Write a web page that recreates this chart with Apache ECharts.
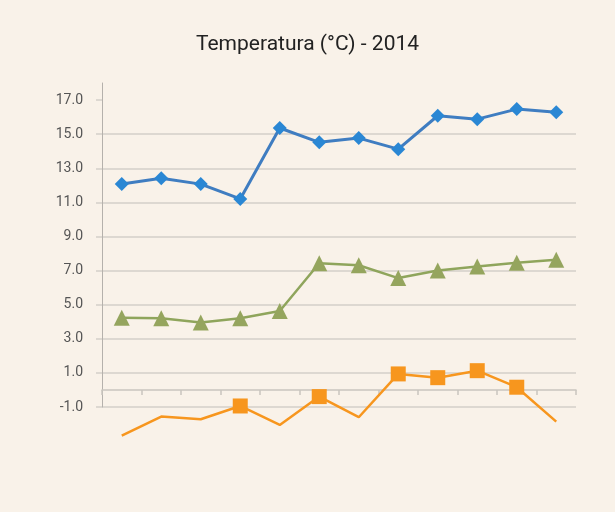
<!DOCTYPE html>
<html><head><meta charset="utf-8">
<script src="https://cdn.jsdelivr.net/npm/echarts@6/dist/echarts.min.js"></script>
<style>html,body{margin:0;padding:0;background:#f9f2e9;}#c{width:615px;height:512px;}</style>
</head><body><div id="c"></div>
<script>
const categories = ['1','2','3','4','5','6','7','8','9','10','11','12'];
const seriesBlue = [12.08, 12.42, 12.07, 11.2, 15.36, 14.52, 14.77, 14.12, 16.08, 15.88, 16.47, 16.28];
const seriesGreen = [4.24, 4.2, 3.95, 4.2, 4.63, 7.43, 7.31, 6.56, 7.0, 7.24, 7.46, 7.64];
const seriesOrange = [-2.68, -1.56, -1.72, -0.94, -2.05, -0.39, -1.6, 0.94, 0.72, 1.13, 0.16, -1.86];
const orangeMarked = [false, false, false, true, false, true, false, true, true, true, true, false];
const yTicks = [-1, 1, 3, 5, 7, 9, 11, 13, 15, 17];

const chart = echarts.init(document.getElementById('c'));
chart.setOption({
  backgroundColor: '#f9f2e9',
  animation: false,
  title: {
    text: 'Temperatura (°C) - 2014', left: 'center', top: 29,
    textStyle: { fontFamily: 'Roboto', fontSize: 21, fontWeight: 'normal', color: '#222' }
  },
  grid: { left: 102, right: 39, top: 83, bottom: 105, containLabel: false },
  xAxis: {
    type: 'category', data: categories, boundaryGap: true,
    axisLine: { onZero: true, lineStyle: { color: '#c9c5bf', width: 1.5 } },
    axisTick: { show: true, length: 5, lineStyle: { color: '#c9c5bf', width: 1.5 } },
    axisLabel: { show: false }, splitLine: { show: false }
  },
  yAxis: {
    type: 'value', min: -1, max: 18, interval: 2,
    axisLine: { show: true, lineStyle: { color: '#b5b1ac', width: 1 } },
    axisTick: { show: true, length: 6, customValues: yTicks, lineStyle: { color: '#d3cfc9', width: 1.5 } },
    axisLabel: {
      fontFamily: 'Roboto', fontSize: 14, color: '#555', margin: 19,
      customValues: yTicks,
      formatter: v => v.toFixed(1)
    },
    splitLine: { show: true, showMaxLine: false, lineStyle: { color: '#d3cfc9', width: 1.5 } }
  },
  series: [
    { type: 'line', data: seriesBlue, symbol: 'diamond', symbolSize: 14, clip: false,
      lineStyle: { color: '#3f7dc1', width: 3 }, itemStyle: { color: '#2a87d4' } },
    { type: 'line', data: seriesGreen, symbol: 'triangle', symbolSize: 16, clip: false,
      lineStyle: { color: '#8fa55c', width: 2.5 }, itemStyle: { color: '#95a55e' } },
    { type: 'line', data: seriesOrange.map((v, i) => orangeMarked[i] ? { value: v } : { value: v, symbol: 'none' }),
      symbol: 'rect', symbolSize: 15, clip: false,
      lineStyle: { color: '#f7961e', width: 2.5 }, itemStyle: { color: '#f7961e', borderRadius: 2 } }
  ]
});
</script></body></html>
